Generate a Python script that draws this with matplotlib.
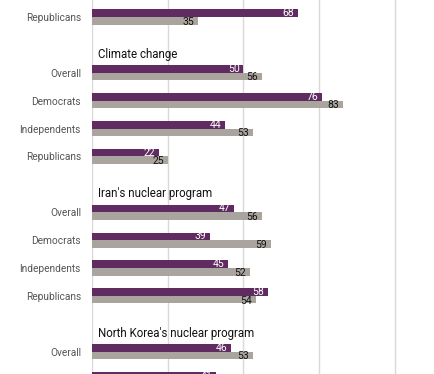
import matplotlib.pyplot as plt

plt.rcParams['font.family'] = ['Roboto', 'DejaVu Sans']

# rows from top to bottom; None marks a topic heading row
row_labels = ["Republicans", None, "Overall", "Democrats", "Independents", "Republicans",
              None, "Overall", "Democrats", "Independents", "Republicans",
              None, "Overall", "Democrats"]
headings = ["Climate change", "Iran's nuclear program", "North Korea's nuclear program"]
purple_vals = [68, None, 50, 76, 44, 22, None, 47, 39, 45, 58, None, 46, 41]
gray_vals = [35, None, 56, 83, 53, 25, None, 56, 59, 52, 54, None, 53, 50]

purple = "#5f2b61"
gray = "#a9a49e"
bh = 0.27

fig = plt.figure(figsize=(4.35, 3.74), dpi=100)
ax = fig.add_axes([92 / 435, 0, 1 - 92 / 435, 1])

ticks, ticklabels = [], []
h = 0
for i, lab in enumerate(row_labels):
    if lab is None:
        ax.text(2, i + 0.33, headings[h], fontsize=8.3, va="center", ha="left", color="#111111")
        h += 1
        continue
    ticks.append(i)
    ticklabels.append(lab)
    p = purple_vals[i]
    g = gray_vals[i]
    ax.barh(i - bh / 2, p, height=bh, color=purple, zorder=2)
    ax.barh(i + bh / 2, g, height=bh, color=gray, zorder=2)
    ax.text(p - 1.3, i - bh / 2, str(p), ha="right", va="center", fontsize=7.5, color="white", zorder=3)
    ax.text(g - 1.3, i + bh / 2 + 0.03, str(g), ha="right", va="center", fontsize=7.5, color="#111111", zorder=3)

ax.set_yticks(ticks)
ax.set_yticklabels(ticklabels, fontsize=7.3, color="#555555")
ax.tick_params(axis="y", length=0, pad=8)
ax.set_xticks([0, 25, 50, 75, 100])
ax.tick_params(axis="x", length=0, labelbottom=False)
ax.xaxis.grid(True, color="#d9d9d9", linewidth=1, zorder=0)
ax.set_xlim(0, (435 - 92) / 3.03)
ax.set_ylim(12.8, -0.61)
for s in ax.spines.values():
    s.set_visible(False)

fig.savefig("out.png", dpi=100)
